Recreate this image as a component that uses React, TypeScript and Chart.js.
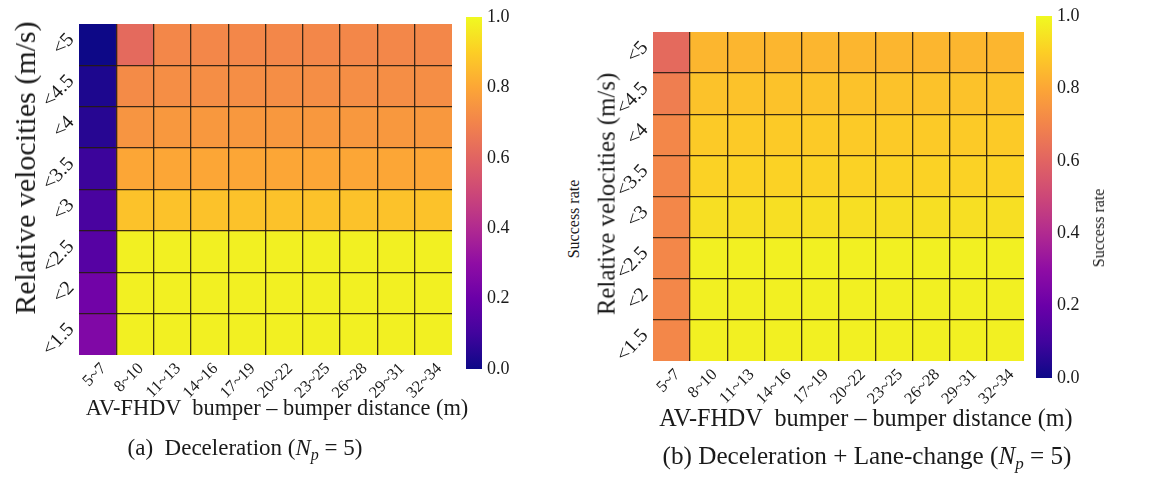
import React, { useEffect, useRef } from 'react';
import { Chart, registerables } from 'chart.js';

Chart.register(...registerables);

// ---------- data ----------
const xLabels = ['5~7', '8~10', '11~13', '14~16', '17~19', '20~22', '23~25', '26~28', '29~31', '32~34'];
// rows listed top to bottom
const yLabels = ['<5', '<4.5', '<4', '<3.5', '<3', '<2.5', '<2', '<1.5'];

// (a) Deceleration, success rate per row (top -> bottom), per distance column
const decelRates: number[][] = [
  [0.00, 0.62, 0.71, 0.71, 0.71, 0.71, 0.71, 0.71, 0.71, 0.71],
  [0.03, 0.72, 0.73, 0.73, 0.73, 0.73, 0.73, 0.73, 0.73, 0.73],
  [0.05, 0.75, 0.76, 0.76, 0.76, 0.76, 0.76, 0.76, 0.76, 0.76],
  [0.09, 0.80, 0.80, 0.80, 0.80, 0.80, 0.80, 0.80, 0.80, 0.80],
  [0.12, 0.87, 0.87, 0.87, 0.87, 0.87, 0.87, 0.87, 0.87, 0.87],
  [0.15, 0.98, 0.98, 0.98, 0.98, 0.98, 0.98, 0.98, 0.98, 0.98],
  [0.22, 0.98, 0.98, 0.98, 0.98, 0.98, 0.98, 0.98, 0.98, 0.98],
  [0.26, 0.98, 0.98, 0.98, 0.98, 0.98, 0.98, 0.98, 0.98, 0.98],
];

// (b) Deceleration + Lane-change
const laneRates: number[][] = [
  [0.62, 0.84, 0.84, 0.84, 0.84, 0.84, 0.84, 0.84, 0.84, 0.84],
  [0.68, 0.87, 0.87, 0.87, 0.87, 0.87, 0.87, 0.87, 0.87, 0.87],
  [0.71, 0.89, 0.89, 0.89, 0.89, 0.89, 0.89, 0.89, 0.89, 0.89],
  [0.71, 0.91, 0.91, 0.91, 0.91, 0.91, 0.91, 0.91, 0.91, 0.91],
  [0.71, 0.94, 0.94, 0.94, 0.94, 0.94, 0.94, 0.94, 0.94, 0.94],
  [0.71, 0.98, 0.98, 0.98, 0.98, 0.98, 0.98, 0.98, 0.98, 0.98],
  [0.71, 0.98, 0.98, 0.98, 0.98, 0.98, 0.98, 0.98, 0.98, 0.98],
  [0.71, 0.98, 0.98, 0.98, 0.98, 0.98, 0.98, 0.98, 0.98, 0.98],
];

const cbarTicks = [0, 0.2, 0.4, 0.6, 0.8, 1.0];

// ---------- style ----------
const FONT = '"Liberation Serif", "Times New Roman", serif';
const TEXT = '#1a1a1a';
const GRID = 'rgba(40,28,15,0.9)';

// plasma colour map stops (0 .. 1 every 0.1)
const PLASMA: number[][] = [
  [13, 8, 135], [65, 4, 157], [106, 0, 168], [143, 13, 164], [177, 42, 144],
  [204, 71, 120], [225, 100, 98], [242, 132, 75], [252, 166, 54], [252, 206, 37], [240, 249, 33],
];

function plasma(v: number): string {
  const t = Math.max(0, Math.min(1, v)) * (PLASMA.length - 1);
  const i = Math.min(PLASMA.length - 2, Math.floor(t));
  const f = t - i;
  const a = PLASMA[i];
  const b = PLASMA[i + 1];
  const c = a.map((x, k) => Math.round(x + (b[k] - x) * f));
  return `rgb(${c[0]},${c[1]},${c[2]})`;
}

type Area = { left: number; right: number; top: number; bottom: number };

function gridColor(ctx: any) {
  if (ctx.index === undefined || ctx.index === 0) return 'rgba(0,0,0,0)';
  return GRID;
}

function HeatChart(props: { rates: number[][]; left: number; top: number; width: number; height: number; area: Area }) {
  const ref = useRef<HTMLCanvasElement>(null);
  useEffect(() => {
    const { rates, width, height, area } = props;
    const nR = yLabels.length;
    const datasets = rates.map((row, r) => ({
      label: yLabels[r],
      data: row.map(() => [nR - 1 - r, nR - r]),
      backgroundColor: row.map(plasma),
      borderWidth: 0,
      grouped: false,
      barPercentage: 1,
      categoryPercentage: 1,
    }));
    const chart = new Chart(ref.current as HTMLCanvasElement, {
      type: 'bar',
      data: { labels: xLabels, datasets: datasets as any },
      options: {
        animation: false,
        responsive: false,
        maintainAspectRatio: false,
        layout: { padding: { top: area.top, right: width - area.right, left: 0, bottom: 0 } },
        plugins: { legend: { display: false }, tooltip: { enabled: false } },
        scales: {
          x: {
            type: 'category',
            offset: true,
            grid: { offset: true, drawTicks: false, z: 1, lineWidth: 1.3, color: gridColor },
            border: { display: false },
            ticks: {
              font: { family: FONT, size: 16.5 },
              color: TEXT,
              minRotation: 45,
              maxRotation: 45,
              padding: 4,
              labelOffset: 6,
              autoSkip: false,
            },
            afterFit: (s: any) => {
              s.height = height - area.bottom;
            },
          },
          y: {
            type: 'linear',
            min: 0,
            max: nR,
            afterBuildTicks: (s: any) => {
              s.ticks = yLabels.map((_, i) => ({ value: i + 0.5 }));
            },
            grid: { offset: true, drawTicks: false, z: 1, lineWidth: 1.3, color: gridColor },
            border: { display: false },
            ticks: {
              font: { family: FONT, size: 20 },
              color: TEXT,
              minRotation: 47,
              maxRotation: 47,
              padding: 8,
              labelOffset: -8,
              autoSkip: false,
              callback: (v: any) => yLabels[nR - 1 - Math.floor(Number(v))],
            },
            afterFit: (s: any) => {
              s.width = area.left;
            },
          },
        },
      } as any,
    });
    return () => chart.destroy();
  }, []);
  return (
    <canvas
      ref={ref}
      width={props.width}
      height={props.height}
      style={{ position: 'absolute', left: props.left, top: props.top, width: props.width, height: props.height }}
    />
  );
}

function ColorBar(props: { left: number; top: number; width: number; height: number; area: Area }) {
  const ref = useRef<HTMLCanvasElement>(null);
  useEffect(() => {
    const { width, height, area } = props;
    const chart = new Chart(ref.current as HTMLCanvasElement, {
      type: 'bar',
      data: {
        labels: [''],
        datasets: [
          {
            data: [[0, 1]] as any,
            barPercentage: 1,
            categoryPercentage: 1,
            borderWidth: 0,
            backgroundColor: (c: any) => {
              const ca = c.chart.chartArea;
              if (!ca) return plasma(0.5);
              const g = c.chart.ctx.createLinearGradient(0, ca.bottom, 0, ca.top);
              for (let i = 0; i <= 20; i++) g.addColorStop(i / 20, plasma(i / 20));
              return g;
            },
          },
        ],
      },
      options: {
        animation: false,
        responsive: false,
        maintainAspectRatio: false,
        layout: { padding: { left: area.left, top: area.top, bottom: height - area.bottom, right: 0 } },
        plugins: { legend: { display: false }, tooltip: { enabled: false } },
        scales: {
          x: { display: false },
          y: {
            position: 'right',
            min: 0,
            max: 1,
            afterBuildTicks: (s: any) => {
              s.ticks = cbarTicks.map((v) => ({ value: v }));
            },
            grid: { display: false, drawTicks: false },
            border: { display: false },
            ticks: {
              font: { family: FONT, size: 18 },
              color: TEXT,
              padding: 5,
              callback: (v: any) => Number(v).toFixed(1),
            },
            afterFit: (s: any) => {
              s.width = width - area.right;
            },
          },
        },
      } as any,
    });
    return () => chart.destroy();
  }, []);
  return (
    <canvas
      ref={ref}
      width={props.width}
      height={props.height}
      style={{ position: 'absolute', left: props.left, top: props.top, width: props.width, height: props.height }}
    />
  );
}

function Text(props: { cx: number; cy: number; size: number; children: any }) {
  return (
    <div
      style={{
        position: 'absolute',
        left: props.cx - 300,
        top: props.cy - 15,
        width: 600,
        height: 30,
        lineHeight: '30px',
        textAlign: 'center',
        fontFamily: FONT,
        fontSize: props.size,
        color: TEXT,
        whiteSpace: 'pre',
      }}
    >
      {props.children}
    </div>
  );
}

function Caption(props: { cx: number; cy: number; label: string; text: string; size: number }) {
  return (
    <Text cx={props.cx} cy={props.cy} size={props.size}>
      {props.label}
      {props.text} (<i>N</i>
      <sub style={{ fontSize: Math.round(props.size * 0.68), verticalAlign: '-5px' }}>
        <i>p</i>
      </sub>
      {' = 5)'}
    </Text>
  );
}

function RotLabel(props: { cx: number; cy: number; text: string; size: number }) {
  return (
    <div
      style={{
        position: 'absolute',
        left: props.cx,
        top: props.cy,
        transform: 'translate(-50%, -50%) rotate(-90deg)',
        fontFamily: FONT,
        fontSize: props.size,
        color: TEXT,
        whiteSpace: 'nowrap',
        lineHeight: 1,
      }}
    >
      {props.text}
    </div>
  );
}

const X_TITLE = 'AV-FHDV  bumper – bumper distance (m)';
const Y_TITLE = 'Relative velocities (m/s)';
const CBAR_TITLE = 'Success rate';

export default function App() {
  return (
    <div
      style={{
        position: 'fixed',
        left: 0,
        top: 0,
        width: 1156,
        height: 483,
        background: '#ffffff',
        overflow: 'hidden',
      }}
    >
      <HeatChart rates={decelRates} left={0} top={0} width={460} height={400} area={{ left: 79, right: 452, top: 24, bottom: 355 }} />
      <ColorBar left={456} top={0} width={80} height={390} area={{ left: 10, right: 26, top: 17, bottom: 369 }} />
      <RotLabel cx={574} cy={219} text={CBAR_TITLE} size={16} />
      <RotLabel cx={25} cy={168} text={Y_TITLE} size={30} />
      <Text cx={277} cy={408} size={22.4}>{X_TITLE}</Text>
      <Caption cx={245} cy={448} label={'(a)  '} text="Deceleration" size={23} />

      <HeatChart rates={laneRates} left={580} top={0} width={456} height={405} area={{ left: 73, right: 444, top: 32, bottom: 361 }} />
      <ColorBar left={1026} top={0} width={80} height={400} area={{ left: 10, right: 26, top: 16, bottom: 378 }} />
      <RotLabel cx={1099} cy={228} text={CBAR_TITLE} size={16} />
      <RotLabel cx={607} cy={194} text={Y_TITLE} size={24.8} />
      <Text cx={866} cy={418} size={24.2}>{X_TITLE}</Text>
      <Caption cx={867} cy={456} label={'(b) '} text="Deceleration + Lane-change" size={25.2} />
    </div>
  );
}
